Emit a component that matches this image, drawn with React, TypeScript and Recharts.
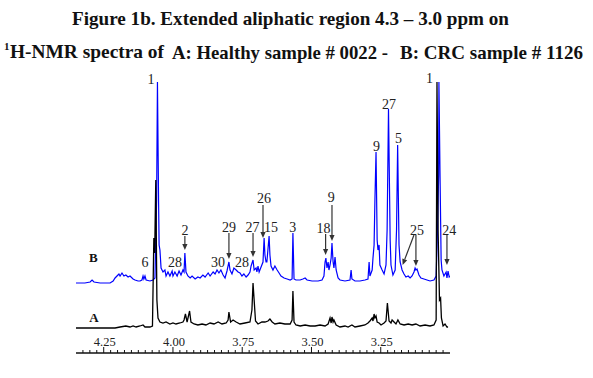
import React from 'react';
import { ComposedChart, Line, XAxis, YAxis, ReferenceDot, ReferenceLine } from 'recharts';

// Spectrum B (CRC sample #1126): [ppm, relative intensity]
const SPECTRUM_B: [number, number][] = [
  [4.350,70],[4.318,70],[4.299,71],[4.292,73],[4.285,71],[4.263,70],[4.227,70],[4.216,72],[4.209,75],[4.202,77],
  [4.195,79],[4.191,77],[4.184,80],[4.177,77],[4.170,78],[4.162,76],[4.155,77],[4.144,74],[4.137,73],[4.126,72],
  [4.119,72],[4.112,73],[4.108,77],[4.105,74],[4.101,77],[4.097,73],[4.083,72],[4.072,73],[4.065,75],[4.059,153],
  [4.056,271],[4.052,153],[4.050,108],[4.047,103],[4.043,85],[4.036,81],[4.029,83],[4.025,77],[4.018,81],[4.011,77],
  [4.003,82],[4.000,77],[3.993,81],[3.985,77],[3.978,82],[3.971,78],[3.964,83],[3.960,81],[3.957,100],[3.953,81],
  [3.946,77],[3.938,75],[3.931,77],[3.920,74],[3.910,76],[3.902,75],[3.892,78],[3.884,76],[3.873,80],[3.866,77],
  [3.855,81],[3.848,79],[3.841,83],[3.834,80],[3.827,83],[3.819,78],[3.812,75],[3.805,82],[3.798,91],[3.794,83],
  [3.787,79],[3.780,85],[3.772,83],[3.765,81],[3.758,80],[3.751,77],[3.744,79],[3.736,76],[3.729,78],[3.722,81],
  [3.718,87],[3.711,93],[3.707,83],[3.700,85],[3.697,81],[3.693,87],[3.689,81],[3.682,86],[3.675,91],[3.671,115],
  [3.668,98],[3.664,91],[3.661,91],[3.653,117],[3.650,98],[3.646,87],[3.639,83],[3.632,87],[3.624,83],[3.617,80],
  [3.610,77],[3.599,75],[3.588,74],[3.577,73],[3.570,74],[3.567,120],[3.563,74],[3.556,73],[3.541,73],[3.531,74],
  [3.523,75],[3.516,73],[3.498,72],[3.476,72],[3.462,73],[3.455,77],[3.451,91],[3.448,95],[3.444,85],[3.440,91],
  [3.437,83],[3.433,88],[3.429,95],[3.426,110],[3.422,91],[3.419,85],[3.415,96],[3.411,83],[3.404,75],[3.397,73],
  [3.379,72],[3.361,73],[3.357,83],[3.354,74],[3.343,72],[3.325,72],[3.307,73],[3.296,74],[3.292,91],[3.289,77],
  [3.281,83],[3.278,95],[3.274,108],[3.271,153],[3.267,201],[3.263,113],[3.260,103],[3.256,108],[3.253,88],[3.245,83],
  [3.238,79],[3.231,88],[3.227,123],[3.222,244],[3.216,113],[3.213,88],[3.206,78],[3.198,83],[3.193,123],[3.189,208],
  [3.184,108],[3.180,91],[3.173,83],[3.166,79],[3.159,76],[3.151,77],[3.144,75],[3.137,77],[3.130,81],[3.126,85],
  [3.123,83],[3.119,84],[3.112,78],[3.105,75],[3.094,74],[3.083,73],[3.072,72],[3.058,73],[3.050,77],[3.045,123],
  [3.041,178],[3.040,271],[3.036,178],[3.032,93],[3.029,83],[3.022,77],[3.014,81],[3.011,75],[3.007,82],[3.003,76],
  [3.000,77],
];

// Spectrum A (Healthy sample #0022): [ppm, relative intensity]
const SPECTRUM_A: [number, number][] = [
  [4.350,25],[4.263,25],[4.209,25],[4.191,26],[4.170,27],[4.155,26],[4.144,27],[4.133,26],[4.119,27],[4.108,28],
  [4.101,26],[4.083,26],[4.074,27],[4.069,115],[4.066,100],[4.062,173],[4.058,53],[4.054,35],[4.047,31],[4.036,30],
  [4.025,31],[4.011,29],[4.000,30],[3.989,29],[3.975,30],[3.964,31],[3.960,33],[3.955,39],[3.949,31],[3.940,42],
  [3.935,31],[3.924,29],[3.910,28],[3.895,29],[3.881,28],[3.866,30],[3.852,29],[3.837,31],[3.823,29],[3.808,30],
  [3.801,33],[3.798,41],[3.792,31],[3.783,33],[3.772,31],[3.758,29],[3.740,30],[3.722,31],[3.715,43],[3.711,70],
  [3.707,53],[3.702,32],[3.693,29],[3.679,31],[3.668,31],[3.657,32],[3.650,34],[3.642,31],[3.632,29],[3.614,30],
  [3.596,29],[3.577,29],[3.570,33],[3.567,62],[3.563,31],[3.556,28],[3.541,27],[3.523,28],[3.505,27],[3.487,27],
  [3.469,28],[3.451,27],[3.440,29],[3.433,35],[3.429,30],[3.426,36],[3.422,31],[3.419,33],[3.411,28],[3.397,26],
  [3.379,27],[3.368,26],[3.354,28],[3.343,26],[3.325,27],[3.307,28],[3.296,30],[3.289,32],[3.281,35],[3.278,32],
  [3.274,39],[3.271,35],[3.267,37],[3.263,31],[3.256,30],[3.249,28],[3.238,30],[3.231,32],[3.226,50],[3.220,32],
  [3.213,30],[3.209,33],[3.202,31],[3.195,29],[3.188,33],[3.180,29],[3.166,28],[3.151,29],[3.137,28],[3.123,29],
  [3.108,27],[3.090,28],[3.072,27],[3.058,28],[3.050,33],[3.047,271],[3.043,123],[3.038,53],[3.034,55],[3.031,35],
  [3.025,27],[3.018,29],[3.011,26],[3.007,26],
];

const MAJOR_TICKS = [4.25, 4.0, 3.75, 3.5, 3.25];
const TICK_LABELS = ['4.25', '4.00', '3.75', '3.50', '3.25'];
const MINOR_TICKS = [
  3.025, 3.05, 3.075, 3.1, 3.125, 3.15, 3.175, 3.2, 3.225, 3.275, 3.3, 3.325, 3.35, 3.375, 3.4, 3.425,
  3.45, 3.475, 3.525, 3.55, 3.575, 3.6, 3.625, 3.65, 3.675, 3.7, 3.725, 3.775, 3.8, 3.825, 3.85, 3.875,
  3.9, 3.925, 3.95, 3.975, 4.025, 4.05, 4.075, 4.1, 4.125, 4.15, 4.175, 4.2, 4.225, 4.275, 4.3, 4.325,
];

// Peak assignment labels: text, ppm, height
const PEAK_LABEL_TEXT = ['1', '1', '2', '6', '28', '30', '28', '29', '27', '26', '15', '3', '18', '9', '9', '27', '5', '25', '24'];
const PEAK_LABEL_PPM = [4.079, 3.074, 3.957, 4.101, 3.993, 3.837, 3.751, 3.798, 3.713, 3.671, 3.646, 3.568, 3.457, 3.429, 3.265, 3.220, 3.186, 3.119, 3.003];
const PEAK_LABEL_H = [274, 275, 123, 91, 91, 91, 91, 126, 126, 155, 126, 126, 125, 156, 207, 249, 215, 123, 123];

// Arrows: [ppm start, height start, ppm tip, height tip]
const ARROWS: [number, number, number, number][] = [
  [3.957, 117, 3.957, 103],
  [3.798, 120, 3.798, 94],
  [3.711, 120, 3.711, 96],
  [3.675, 148, 3.675, 115],
  [3.449, 119, 3.449, 98],
  [3.426, 148, 3.426, 112],
  [3.123, 118, 3.123, 87],
  [3.130, 118, 3.171, 88],
  [3.011, 118, 3.011, 88],
];

const TRACE_LABEL_TEXT = ['B', 'A'];
const TRACE_LABEL_PPM = [4.287, 4.285];
const TRACE_LABEL_H = [96, 36.5];

const dataA = SPECTRUM_A.map(([ppm, v]) => ({ ppm, v }));
const dataB = SPECTRUM_B.map(([ppm, v]) => ({ ppm, v }));
const ALL_TICKS = [...MINOR_TICKS, ...MAJOR_TICKS].sort((a, b) => a - b);

const SERIF = "'Liberation Serif', 'Times New Roman', serif";

const AxisTick = (props: any) => {
  const { x, y, payload } = props;
  const idx = MAJOR_TICKS.findIndex((m) => Math.abs(m - payload.value) < 1e-6);
  const major = idx >= 0;
  return (
    <g>
      <line x1={x} x2={x} y1={y} y2={y - (major ? 6 : 3)} stroke="#111" strokeWidth={1} />
      {major && (
        <text x={x + 1} y={y - 7} textAnchor="middle" fontSize={12.5} fontFamily={SERIF} fill="#222">
          {TICK_LABELS[idx]}
        </text>
      )}
    </g>
  );
};

const arrowShape = (p: any) => {
  const { x1, y1, x2, y2 } = p;
  const dx = x2 - x1;
  const dy = y2 - y1;
  const len = Math.sqrt(dx * dx + dy * dy) || 1;
  const ux = dx / len;
  const uy = dy / len;
  const hl = 6;
  const hw = 2.6;
  const bx = x2 - ux * hl;
  const by = y2 - uy * hl;
  const pts = `${x2},${y2} ${bx - uy * hw},${by + ux * hw} ${bx + uy * hw},${by - ux * hw}`;
  return (
    <g>
      <line x1={x1} y1={y1} x2={bx} y2={by} stroke="#333" strokeWidth={1.2} />
      <polygon points={pts} fill="#333" />
    </g>
  );
};

export default function App() {
  return (
    <div style={{ position: 'absolute', left: 0, top: 0, width: 593, height: 378, background: '#fff' }}>
      <svg width={593} height={70} style={{ position: 'absolute', left: 0, top: 0 }}>
        <text x={72} y={25} fontFamily={SERIF} fontWeight="bold" fontSize={19} fill="#111" textLength={437} lengthAdjust="spacingAndGlyphs">
          Figure 1b. Extended aliphatic region 4.3 – 3.0 ppm on
        </text>
        <text x={4} y={50} fontFamily={SERIF} fontWeight="bold" fontSize={11} fill="#111">1</text>
        <text x={10} y={57.5} fontFamily={SERIF} fontWeight="bold" fontSize={19} fill="#111" textLength={154} lengthAdjust="spacingAndGlyphs">
          H-NMR spectra of
        </text>
        <text x={172} y={59} fontFamily={SERIF} fontWeight="bold" fontSize={19} fill="#111" textLength={216} lengthAdjust="spacingAndGlyphs">
          A: Healthy sample # 0022 -
        </text>
        <text x={400} y={59} fontFamily={SERIF} fontWeight="bold" fontSize={19} fill="#111" textLength={183} lengthAdjust="spacingAndGlyphs">
          B: CRC sample # 1126
        </text>
      </svg>
      <div style={{ position: 'absolute', left: 0, top: 0 }}>
        <ComposedChart width={593} height={378} margin={{ top: 78, right: 143, bottom: 5, left: 76 }}>
          <XAxis
            dataKey="ppm"
            type="number"
            domain={[3.0, 4.35]}
            reversed
            allowDataOverflow
            ticks={ALL_TICKS}
            interval={0}
            tick={<AxisTick />}
            tickLine={false}
            tickSize={0}
            tickMargin={0}
            height={20}
            axisLine={{ stroke: '#111', strokeWidth: 1.3 }}
          />
          <YAxis type="number" domain={[0, 275]} hide allowDataOverflow />
          <Line data={dataB} dataKey="v" type="linear" stroke="#0000ff" strokeWidth={1.2} dot={false} isAnimationActive={false} />
          <Line data={dataA} dataKey="v" type="linear" stroke="#000000" strokeWidth={1.3} dot={false} isAnimationActive={false} />
          {ARROWS.map((a, i) => (
            <ReferenceLine
              key={`arr${i}`}
              segment={[{ x: a[0], y: a[1] }, { x: a[2], y: a[3] }]}
              ifOverflow="visible"
              shape={arrowShape}
            />
          ))}
          {PEAK_LABEL_TEXT.map((t, i) => (
            <ReferenceDot
              key={`pl${i}`}
              x={PEAK_LABEL_PPM[i]}
              y={PEAK_LABEL_H[i]}
              r={0}
              ifOverflow="visible"
              shape={(p: any) => (
                <text x={p.cx} y={p.cy} dy={5} textAnchor="middle" fontFamily={SERIF} fontSize={14} fill="#222">
                  {t}
                </text>
              )}
            />
          ))}
          {TRACE_LABEL_TEXT.map((t, i) => (
            <ReferenceDot
              key={`tl${i}`}
              x={TRACE_LABEL_PPM[i]}
              y={TRACE_LABEL_H[i]}
              r={0}
              ifOverflow="visible"
              shape={(p: any) => (
                <text x={p.cx} y={p.cy} dy={5} textAnchor="middle" fontFamily={SERIF} fontWeight="bold" fontSize={13} fill="#111">
                  {t}
                </text>
              )}
            />
          ))}
        </ComposedChart>
      </div>
    </div>
  );
}
